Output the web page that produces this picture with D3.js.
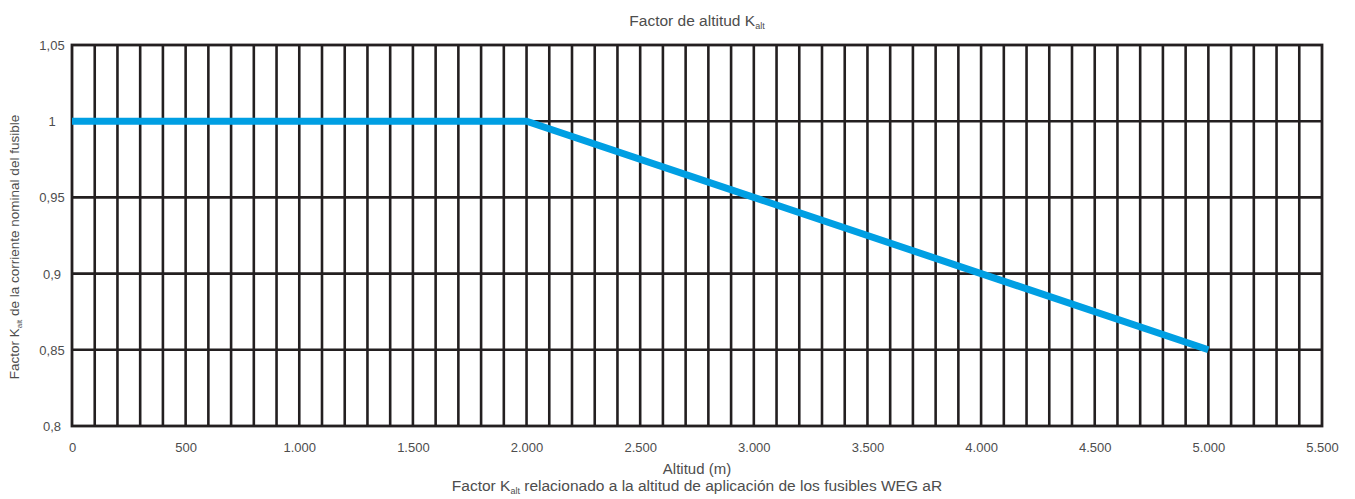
<!DOCTYPE html>
<html>
<head>
<meta charset="utf-8">
<script src="https://cdn.jsdelivr.net/npm/d3@7"></script>
<style>
  html, body { margin: 0; padding: 0; background: #fff; }
  svg { display: block; }
  text { font-family: "Liberation Sans", Arial, Helvetica, sans-serif; fill: #4d4d4d; }
</style>
</head>
<body>
<svg id="chart" width="1355" height="499"></svg>
<script>
// Data
const altitudes = [0, 2000, 3000, 4000, 5000];
const factors = [1, 1, 0.95, 0.90, 0.85];
const xTickValues = [0, 500, 1000, 1500, 2000, 2500, 3000, 3500, 4000, 4500, 5000, 5500];
const xTickLabels = ["0", "500", "1.000", "1.500", "2.000", "2.500", "3.000", "3.500", "4.000", "4.500", "5.000", "5.500"];
const yTickValues = [0.8, 0.85, 0.9, 0.95, 1, 1.05];
const yTickLabels = ["0,8", "0,85", "0,9", "0,95", "1", "1,05"];
const xGridValues = d3.range(100, 5500, 100);
const yGridValues = [0.85, 0.9, 0.95, 1];

const svg = d3.select("#chart");
const mLeft = 72, mRight = 1322, mTop = 45, mBottom = 426;

const x = d3.scaleLinear().domain([0, 5500]).range([mLeft, mRight]);
const y = d3.scaleLinear().domain([0.8, 1.05]).range([mBottom, mTop]);

const gridColor = "#231f20";
const g = svg.append("g");

// vertical grid
g.selectAll("line.vg").data(xGridValues).enter().append("line")
  .attr("class", "vg")
  .attr("x1", d => x(d)).attr("x2", d => x(d))
  .attr("y1", mTop).attr("y2", mBottom)
  .attr("stroke", gridColor).attr("stroke-width", 2.6);

// horizontal grid
g.selectAll("line.hg").data(yGridValues).enter().append("line")
  .attr("class", "hg")
  .attr("x1", mLeft).attr("x2", mRight)
  .attr("y1", d => y(d)).attr("y2", d => y(d))
  .attr("stroke", gridColor).attr("stroke-width", 2.6);

// frame
g.append("rect")
  .attr("x", mLeft).attr("y", mTop)
  .attr("width", mRight - mLeft).attr("height", mBottom - mTop)
  .attr("fill", "none").attr("stroke", gridColor).attr("stroke-width", 2.8);

// data line
const line = d3.line().x((d, i) => x(altitudes[i])).y(d => y(d));
g.append("path")
  .attr("d", line(factors))
  .attr("fill", "none")
  .attr("stroke", "#009fe3")
  .attr("stroke-width", 7)
  .attr("stroke-linejoin", "miter")
  .attr("stroke-linecap", "butt");

// x tick labels via axis
const xAxis = d3.axisBottom(x).tickValues(xTickValues)
  .tickFormat((d, i) => xTickLabels[i]).tickSize(0).tickPadding(0);
const xa = svg.append("g").attr("transform", `translate(0,${mBottom})`).call(xAxis);
xa.select(".domain").remove();
xa.selectAll("text").attr("y", 26).attr("dy", null)
  .style("font-size", "13px").style("fill", "#4d4d4d")
  .style("font-family", "Liberation Sans, Arial, sans-serif");

// y tick labels via axis (centred at x=52)
const yAxis = d3.axisLeft(y).tickValues(yTickValues)
  .tickFormat((d, i) => yTickLabels[i]).tickSize(0).tickPadding(0);
const ya = svg.append("g").attr("transform", `translate(52,0)`).call(yAxis);
ya.select(".domain").remove();
ya.selectAll("text").attr("x", 0).attr("dy", "0.35em")
  .attr("text-anchor", "middle")
  .style("font-size", "13px").style("fill", "#4d4d4d")
  .style("font-family", "Liberation Sans, Arial, sans-serif");

const cx = (mLeft + mRight) / 2;

// title
const t = svg.append("text").attr("x", cx).attr("y", 26)
  .attr("text-anchor", "middle").style("font-size", "15.5px");
t.append("tspan").text("Factor de altitud K");
t.append("tspan").text("alt").style("font-size", "9px").attr("dy", 3);

// x axis title
svg.append("text").attr("x", cx).attr("y", 474)
  .attr("text-anchor", "middle").style("font-size", "15px")
  .text("Altitud (m)");

// caption
const c = svg.append("text").attr("x", cx).attr("y", 491)
  .attr("text-anchor", "middle").style("font-size", "15.5px");
c.append("tspan").text("Factor K");
c.append("tspan").text("alt").style("font-size", "9px").attr("dy", 3);
c.append("tspan").text(" relacionado a la altitud de aplicación de los fusibles WEG aR").attr("dy", -3);

// y axis title
const yt = svg.append("text")
  .attr("transform", `translate(19,247) rotate(-90)`)
  .attr("text-anchor", "middle").style("font-size", "13.5px");
yt.append("tspan").text("Factor K");
yt.append("tspan").text("alt").style("font-size", "8px").attr("dy", 3);
yt.append("tspan").text(" de la corriente nominal del fusible").attr("dy", -3);
</script>
</body>
</html>
